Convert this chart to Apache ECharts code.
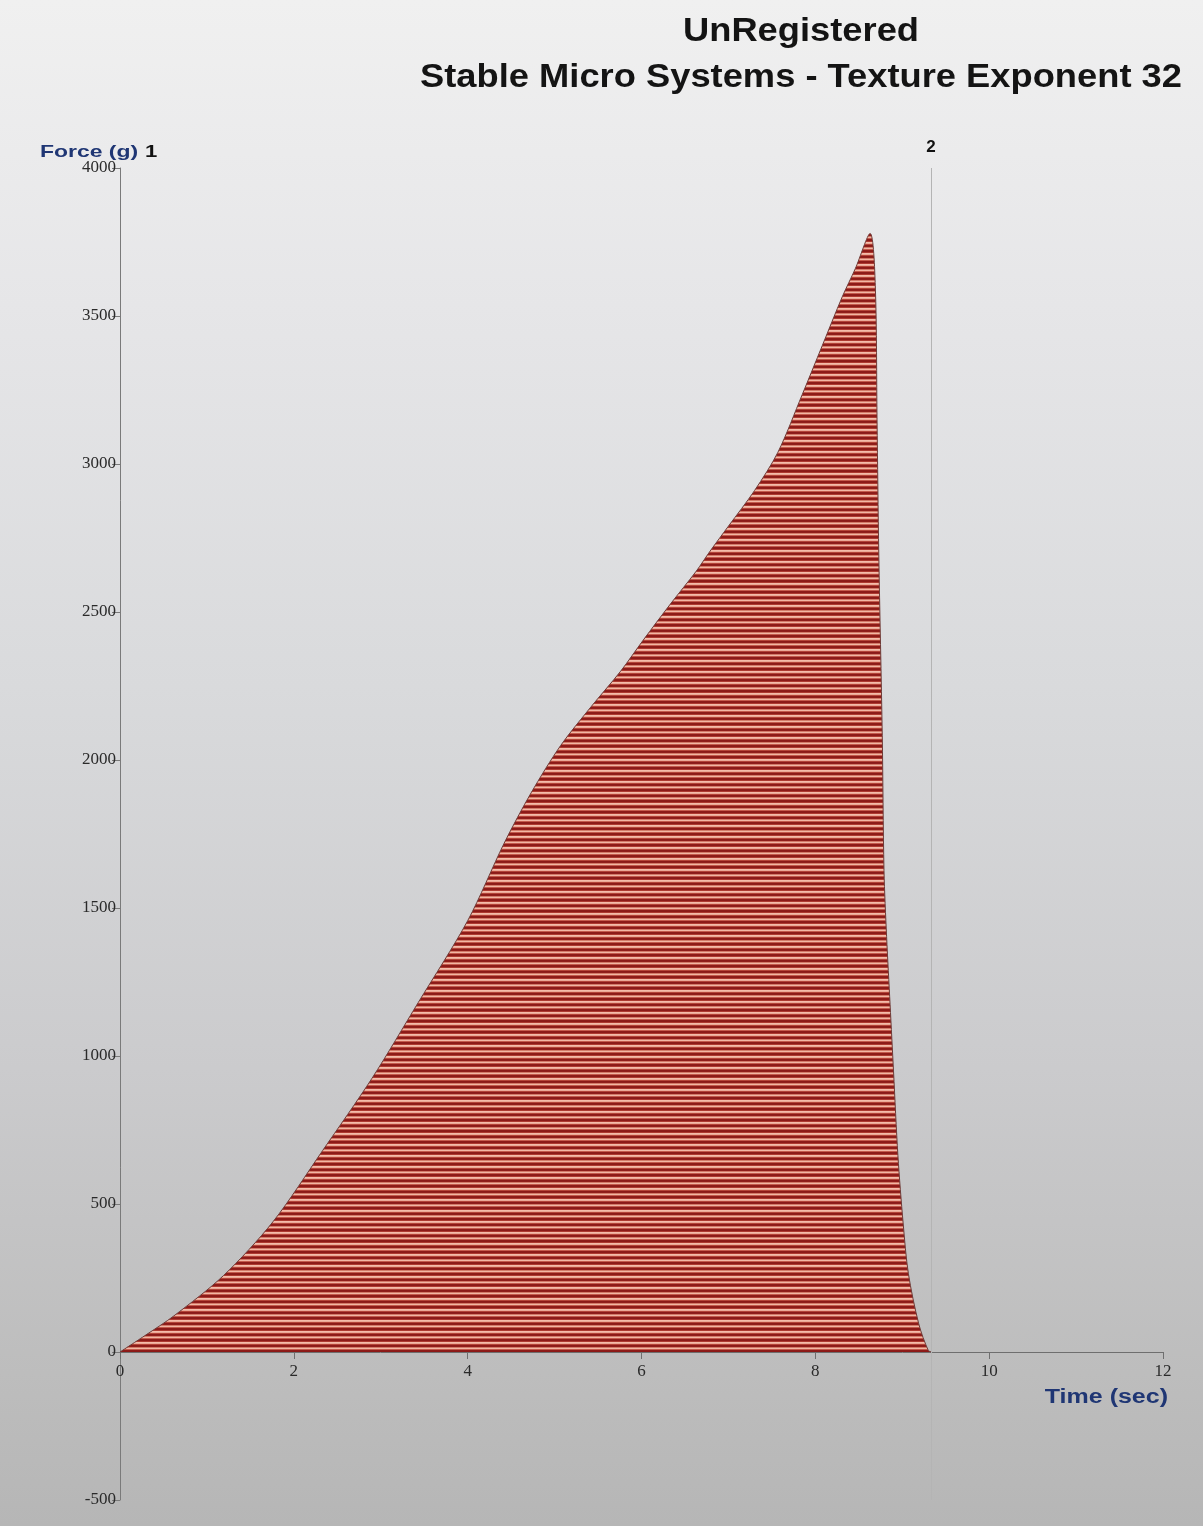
<!DOCTYPE html>
<html>
<head>
<meta charset="utf-8">
<title>Stable Micro Systems - Texture Exponent 32</title>
<script src="https://cdn.jsdelivr.net/npm/echarts@6/dist/echarts.min.js"></script>
<style>
  html, body { margin: 0; padding: 0; }
  body {
    width: 1203px; height: 1526px; overflow: hidden;
    background: linear-gradient(to bottom, #f0f0f0 0%, #e6e6e8 20%, #d9dadc 45%, #cbcbcd 70%, #bdbdbd 90%, #b6b6b6 100%);
  }
  #chart { width: 1203px; height: 1526px; }
</style>
</head>
<body>
<div id="chart"></div>
<script>
// Force / time trace of one compression test
const timeSec = [0, 0.30, 0.62, 1.19, 1.76, 2.33, 2.90, 3.43, 4.00, 4.42, 4.73, 5.07, 5.42, 5.76, 6.02, 6.33, 6.63, 6.79, 7.00, 7.30, 7.57, 7.85, 8.08, 8.31, 8.46, 8.63, 8.69, 8.71, 8.73, 8.77, 8.79, 8.82, 8.86, 8.90, 8.95, 9.01, 9.07, 9.19, 9.30, 9.34];
const forceG  = [0, 58, 122, 258, 440, 680, 925, 1180, 1457, 1719, 1889, 2049, 2180, 2300, 2405, 2526, 2638, 2706, 2790, 2910, 3040, 3235, 3400, 3565, 3660, 3779, 3602, 3149, 2696, 2083, 1627, 1403, 1174, 946, 664, 436, 266, 95, 5, 0];

// Anchor markers (time of each marker, and its label)
const markerTimes = [9.33];
const markerLabels = ['2'];

// Axis ranges / tick steps
const xTicks = { min: 0, max: 12, step: 2 };
const yTicks = { min: -500, max: 4000, step: 500 };

const titleLines = ['UnRegistered', 'Stable Micro Systems - Texture Exponent 32'];

// Plot frame
const GRID = { left: 120, right: 40, top: 168, bottom: 26 };
const plotHeight = 1526 - GRID.top - GRID.bottom;
// distance from the bottom of the plot up to the zero-force line
const zeroLift = plotHeight * (0 - yTicks.min) / (yTicks.max - yTicks.min);

// Horizontal stripe fill used under the trace
function stripePattern() {
  const rows = ['#f4bcaa', '#eba896', '#b44438', '#8c1a18', '#901e1b', '#d27a68',
                '#f2b6a4', '#c45a4c', '#8e1c19', '#8c1a18', '#ae3a30'];
  const c = document.createElement('canvas');
  c.width = 8; c.height = rows.length;
  const ctx = c.getContext('2d');
  rows.forEach((col, i) => { ctx.fillStyle = col; ctx.fillRect(0, i, 8, 1); });
  return c;
}

const chart = echarts.init(document.getElementById('chart'), null, { renderer: 'canvas' });

const sans = '"Liberation Sans", Arial, sans-serif';
const serif = '"Liberation Serif", "Times New Roman", serif';
const navy = '#1f3674';

chart.setOption({
  backgroundColor: 'transparent',
  animation: false,
  grid: Object.assign({ containLabel: false }, GRID),
  xAxis: {
    type: 'value',
    position: 'bottom',
    offset: -zeroLift,
    min: xTicks.min, max: xTicks.max, interval: xTicks.step,
    axisLine: { show: true, onZero: false, lineStyle: { color: '#6f6f6f', width: 1 } },
    axisTick: { show: true, length: 7, lineStyle: { color: '#6f6f6f' } },
    axisLabel: { color: '#2a2a2a', fontFamily: serif, fontSize: 17, margin: 11 },
    splitLine: { show: false }
  },
  yAxis: {
    type: 'value',
    min: yTicks.min, max: yTicks.max, interval: yTicks.step,
    axisLine: { show: true, onZero: false, lineStyle: { color: '#7a7a7a', width: 1 } },
    axisTick: { show: true, length: 8, lineStyle: { color: '#7a7a7a' } },
    axisLabel: { color: '#2a2a2a', fontFamily: serif, fontSize: 17, margin: 4,
                 formatter: v => String(v) },
    splitLine: { show: false }
  },
  series: [{
    type: 'line',
    data: timeSec.map((t, i) => [t, forceG[i]]),
    smooth: 0.3,
    showSymbol: false,
    symbol: 'none',
    lineStyle: { color: '#6e3a36', width: 1 },
    areaStyle: { color: { image: stripePattern(), repeat: 'repeat' }, opacity: 1 },
    markLine: {
      silent: true,
      symbol: ['none', 'none'],
      lineStyle: { color: '#b4b4b4', width: 1, type: 'solid' },
      label: {
        show: true, position: 'end', distance: 12,
        color: '#111', fontFamily: sans, fontWeight: 'bold', fontSize: 17,
        formatter: p => markerLabels[p.dataIndex]
      },
      data: markerTimes.map(t => ({ xAxis: t }))
    }
  }],
  graphic: [
    {
      type: 'text', x: 801, y: 32, scaleX: 1.1,
      style: { text: titleLines[0], x: 0, y: 0, textAlign: 'center', align: 'center',
               textVerticalAlign: 'middle', verticalAlign: 'middle',
               font: 'bold 33px ' + sans, fill: '#141414' }
    },
    {
      type: 'text', x: 801, y: 78, scaleX: 1.1,
      style: { text: titleLines[1], x: 0, y: 0, textAlign: 'center', align: 'center',
               textVerticalAlign: 'middle', verticalAlign: 'middle',
               font: 'bold 33px ' + sans, fill: '#141414' }
    },
    {
      type: 'text', x: 40, y: 152, scaleX: 1.35,
      style: { text: 'Force (g)', x: 0, y: 0, textAlign: 'left', align: 'left',
               textVerticalAlign: 'middle', verticalAlign: 'middle',
               font: 'bold 17px ' + sans, fill: navy }
    },
    {
      type: 'text', x: 145, y: 152, scaleX: 1.3,
      style: { text: '1', x: 0, y: 0, textAlign: 'left', align: 'left',
               textVerticalAlign: 'middle', verticalAlign: 'middle',
               font: 'bold 17px ' + sans, fill: '#111' }
    },
    {
      type: 'text', x: 1168, y: 1397, scaleX: 1.25,
      style: { text: 'Time (sec)', x: 0, y: 0, textAlign: 'right', align: 'right',
               textVerticalAlign: 'middle', verticalAlign: 'middle',
               font: 'bold 20px ' + sans, fill: navy }
    }
  ]
});
</script>
</body>
</html>
